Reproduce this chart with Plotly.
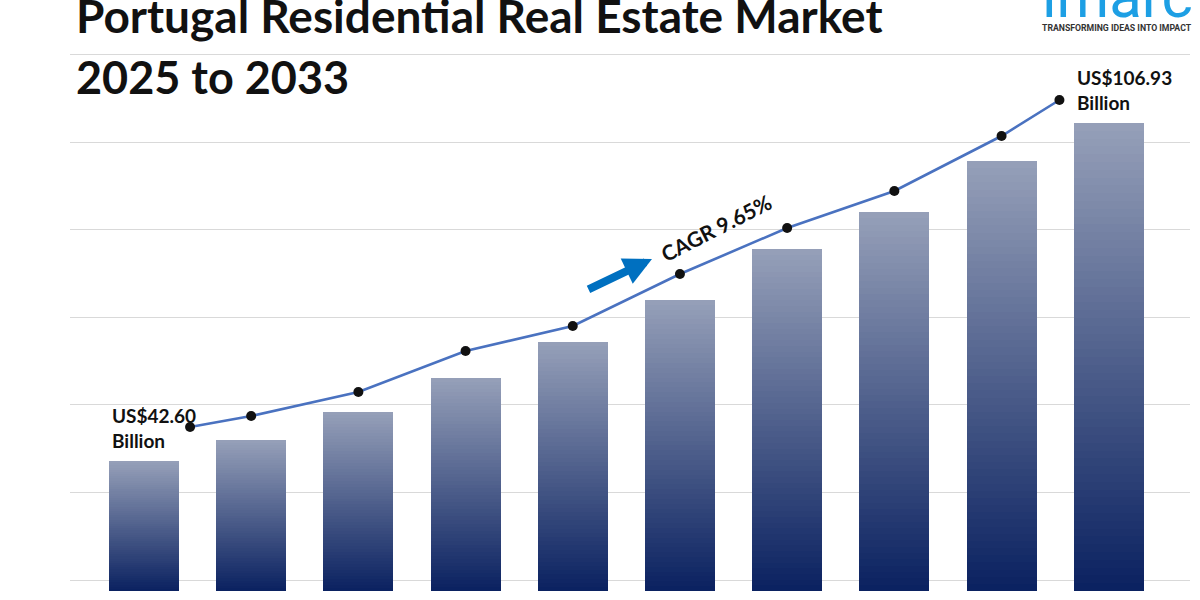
import plotly.graph_objects as go

# ---- data ----
years = [2024, 2025, 2026, 2027, 2028, 2029, 2030, 2031, 2032, 2033]
bar_values = [42.62, 46.62, 51.96, 58.43, 65.29, 73.29, 83.00, 90.05, 99.76, 107.00]
trend_x = [2024.43, 2025, 2026, 2027, 2028, 2029, 2030, 2031, 2032, 2032.54]
trend_values = [42.60, 44.76, 49.49, 57.55, 62.47, 72.70, 81.75, 89.03, 99.85, 106.93]
start_label = "US$42.60<br>Billion"
end_label = "US$106.93<br>Billion"
cagr_label = "CAGR 9.65%"
title_line1 = "Portugal Residential Real Estate Market"
title_line2 = "2025 to 2033"

# ---- styling ----
BAR_AXIS_MIN = 17.86
BAR_AXIS_MAX = 120.9
LINE_AXIS_MIN = 10.34
LINE_AXIS_MAX = 116.77
N_SLICES = 60
bottom_rgb = (10, 33, 96)
top_rgb = (150, 160, 185)
FONT = "Lato"

fig = go.Figure()

for k in range(N_SLICES):
    t = (k + 0.5) / N_SLICES
    c = tuple(round(bottom_rgb[i] + (top_rgb[i] - bottom_rgb[i]) * t) for i in range(3))
    seg = [(v - BAR_AXIS_MIN) / N_SLICES for v in bar_values]
    if k == 0:
        seg = [BAR_AXIS_MIN + s for s in seg]
    fig.add_trace(go.Bar(
        x=years, y=seg, width=0.653,
        marker=dict(color="rgb(%d,%d,%d)" % c, line=dict(width=0)),
        showlegend=False, hoverinfo="skip",
    ))

fig.add_trace(go.Scatter(
    x=trend_x, y=trend_values, yaxis="y2", mode="lines+markers",
    line=dict(color="#4a72c0", width=2.6),
    marker=dict(color="#111111", size=10),
    showlegend=False, hoverinfo="skip",
))

annotations = [
    dict(text="<b>%s</b>" % title_line1, xref="paper", yref="paper", x=0.0036, y=1.063,
         xanchor="left", yanchor="middle", showarrow=False,
         font=dict(family=FONT, size=46, color="#111111")),
    dict(text="<b>%s</b>" % title_line2, xref="paper", yref="paper", x=0.0036, y=0.9496,
         xanchor="left", yanchor="middle", showarrow=False,
         font=dict(family=FONT, size=45, color="#111111")),
    dict(text="imarc", xref="paper", yref="paper", x=0.935, y=1.099,
         xanchor="center", yanchor="middle", showarrow=False,
         font=dict(family="Roboto", size=60, color="#1d9fe4")),
    dict(text="<b>TRANSFORMING IDEAS INTO IMPACT</b>", xref="paper", yref="paper", x=0.935, y=1.0407,
         xanchor="center", yanchor="middle", showarrow=False,
         font=dict(family="Roboto", size=8.7, color="#333333")),
    dict(text="<b>%s</b>" % start_label, xref="paper", yref="paper", x=0.0357, y=0.301,
         xanchor="left", yanchor="middle", align="left", showarrow=False,
         font=dict(family=FONT, size=19, color="#111111")),
    dict(text="<b>%s</b>" % end_label, xref="paper", yref="paper", x=0.897, y=0.926,
         xanchor="left", yanchor="middle", align="left", showarrow=False,
         font=dict(family=FONT, size=19, color="#111111")),
    dict(text="<b>%s</b>" % cagr_label, xref="paper", yref="paper", x=0.577, y=0.671,
         xanchor="center", yanchor="middle", showarrow=False, textangle=-27,
         font=dict(family=FONT, size=21, color="#111111")),
    dict(text="", xref="paper", yref="paper", x=(652 - 70) / 1120, y=(591 - 259) / 541,
         ax=-65, ay=31, axref="pixel", ayref="pixel", showarrow=True,
         arrowhead=2, arrowsize=0.7, arrowwidth=8, arrowcolor="#0070c0", standoff=0),
]

fig.update_layout(
    width=1200, height=600,
    margin=dict(l=70, r=10, t=50, b=9),
    paper_bgcolor="white", plot_bgcolor="white",
    barmode="stack", bargap=0,
    xaxis=dict(range=[2023.31, 2033.758], showgrid=False, zeroline=False,
               showticklabels=False, ticks="", showline=False),
    yaxis=dict(range=[BAR_AXIS_MIN, BAR_AXIS_MAX], tick0=19.95, dtick=16.67,
               showgrid=True, gridcolor="rgba(0,0,0,0.15)", gridwidth=1, zeroline=False,
               showticklabels=False, ticks="", showline=False, layer="above traces"),
    yaxis2=dict(range=[LINE_AXIS_MIN, LINE_AXIS_MAX], overlaying="y", side="right",
                showgrid=False, zeroline=False, showticklabels=False, ticks="", showline=False),
    annotations=annotations,
)

fig.write_html("out.html")
